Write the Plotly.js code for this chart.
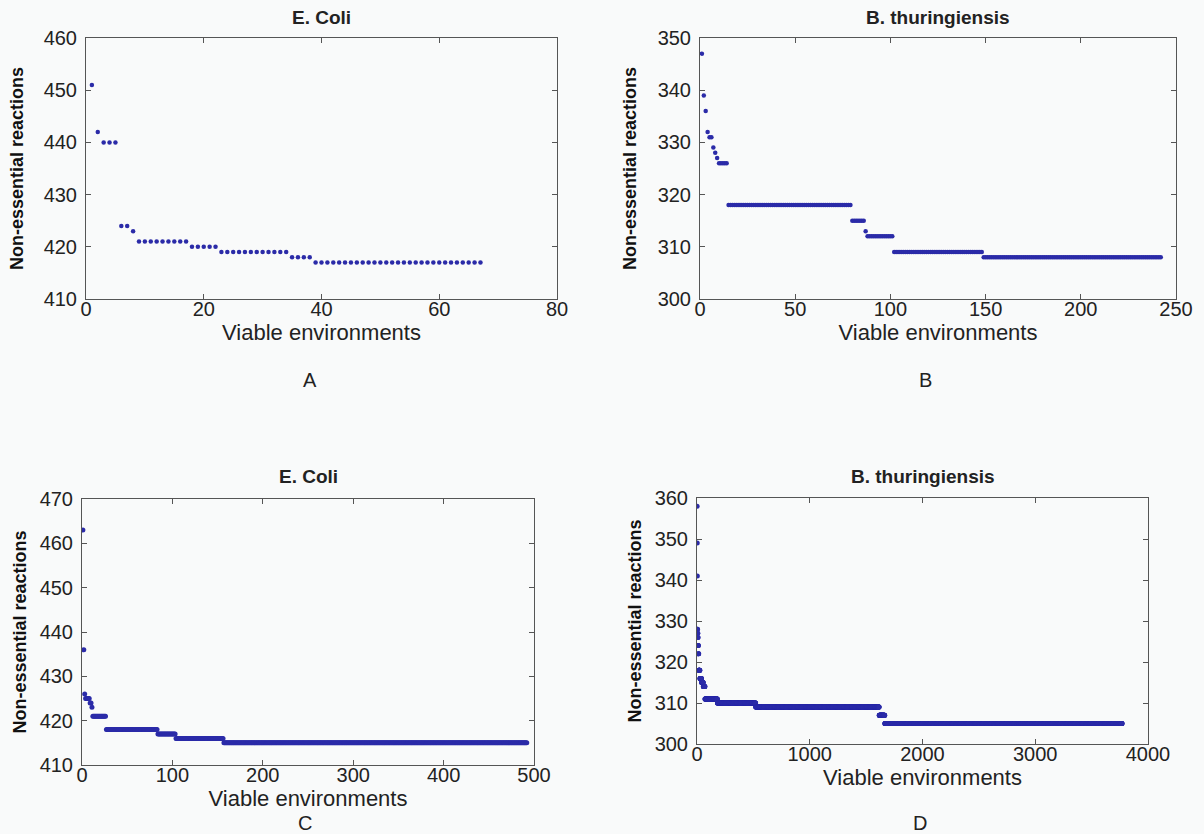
<!DOCTYPE html>
<html>
<head>
<meta charset="utf-8">
<script src="https://cdn.plot.ly/plotly-3.0.1.min.js"></script>
<style>
html,body{margin:0;padding:0;background:#f9fafa;}
#chart{width:1204px;height:834px;}
</style>
</head>
<body>
<div id="chart"></div>
<script>
// Step data: each value repeats 'count' times along x = 1, 2, 3, ...
var panelTitles = ["E. Coli", "B. thuringiensis", "E. Coli", "B. thuringiensis"];
var panelLetters = ["A", "B", "C", "D"];
var xAxisTitle = "Viable environments";
var yAxisTitle = "Non-essential reactions";

// Panel A (E. Coli)
var aValues = [451, 442, 440, 424, 423, 421, 420, 419, 418, 417];
var aCounts = [1, 1, 3, 2, 1, 9, 5, 12, 4, 29];
// Panel B (B. thuringiensis)
var bValues = [347, 339, 336, 332, 331, 329, 328, 327, 326, 318, 315, 313, 312, 309, 308];
var bCounts = [1, 1, 1, 1, 2, 1, 1, 1, 5, 65, 7, 1, 14, 47, 94];
// Panel C (E. Coli)
var cValues = [463, 436, 426, 425, 424, 423, 421, 418, 417, 416, 415];
var cCounts = [1, 1, 1, 5, 2, 1, 15, 57, 20, 53, 336];
// Panel D (B. thuringiensis)
var dValues = [358, 349, 341, 328, 327, 326, 324, 322, 318, 316, 315, 314, 311, 310, 309, 307, 305];
var dCounts = [1, 1, 1, 2, 2, 2, 3, 3, 10, 15, 15, 15, 110, 340, 1095, 50, 2105];

// Axis tick values
var aXTicks = [0, 20, 40, 60, 80];
var aYTicks = [410, 420, 430, 440, 450, 460];
var bXTicks = [0, 50, 100, 150, 200, 250];
var bYTicks = [300, 310, 320, 330, 340, 350];
var cXTicks = [0, 100, 200, 300, 400, 500];
var cYTicks = [410, 420, 430, 440, 450, 460, 470];
var dXTicks = [0, 1000, 2000, 3000, 4000];
var dYTicks = [300, 310, 320, 330, 340, 350, 360];

function expand(values, counts) {
  var xs = [], ys = [], n = 1;
  for (var i = 0; i < values.length; i++) {
    for (var k = 0; k < counts[i]; k++) { xs.push(n); ys.push(values[i]); n++; }
  }
  return {x: xs, y: ys};
}

var W = 1204, H = 834;
function dx(a, b) { return [a / W, b / W]; }
function dy(top, bottom) { return [1 - bottom / H, 1 - top / H]; }

var panels = [
  {vals: aValues, cnts: aCounts, xt: aXTicks, yt: aYTicks, xd: dx(86, 557), yd: dy(38, 299), msize: 4.5},
  {vals: bValues, cnts: bCounts, xt: bXTicks, yt: bYTicks, xd: dx(700, 1176), yd: dy(38, 299), msize: 4.5},
  {vals: cValues, cnts: cCounts, xt: cXTicks, yt: cYTicks, xd: dx(82, 534), yd: dy(499, 765), msize: 5},
  {vals: dValues, cnts: dCounts, xt: dXTicks, yt: dYTicks, xd: dx(697, 1148), yd: dy(498, 744), msize: 5}
];

var lineCol = '#555555';
var data = [];
var layout = {
  width: W, height: H,
  margin: {l: 0, r: 0, t: 0, b: 0},
  paper_bgcolor: '#f9fafa',
  plot_bgcolor: '#f9fafa',
  showlegend: false,
  font: {family: 'Liberation Sans, Arial, sans-serif', color: '#222222'},
  annotations: []
};

var titleY = [18, 18, 476, 476];
var letterPos = [[310, 380], [925, 380], [305, 823], [920, 823]];
var xStand = [3, 3, 2, 2];
var yStand = [15, 16, 8, 8];

panels.forEach(function (p, i) {
  var s = expand(p.vals, p.cnts);
  var xa = 'x' + (i === 0 ? '' : (i + 1));
  var ya = 'y' + (i === 0 ? '' : (i + 1));
  data.push({
    type: 'scatter', mode: 'markers', x: s.x, y: s.y,
    xaxis: xa, yaxis: ya,
    marker: {color: '#2b2ba8', size: p.msize, line: {width: 0}},
    hoverinfo: 'x+y'
  });
  var xr = [p.xt[0], p.xt[p.xt.length - 1]];
  var yr = [p.yt[0], p.yt[p.yt.length - 1]];
  var common = {
    showline: true, mirror: 'ticks', linecolor: lineCol, linewidth: 1,
    ticks: 'inside', ticklen: 5, tickcolor: lineCol, tickwidth: 1,
    showgrid: false, zeroline: false, fixedrange: true,
    tickfont: {size: 20, color: '#222222'}
  };
  var xKey = 'xaxis' + (i === 0 ? '' : (i + 1));
  var yKey = 'yaxis' + (i === 0 ? '' : (i + 1));
  layout[xKey] = Object.assign({}, common, {
    domain: p.xd, range: xr, tickvals: p.xt, anchor: ya,
    ticklabelstandoff: -8,
    title: {text: xAxisTitle, font: {size: 22, color: '#222222'}, standoff: xStand[i]}
  });
  layout[yKey] = Object.assign({}, common, {
    domain: p.yd, range: yr, tickvals: p.yt, anchor: xa,
    ticklabelstandoff: 4,
    title: {text: '<b>' + yAxisTitle + '</b>', font: {size: 18, color: '#111111'}, standoff: yStand[i]}
  });
  layout.annotations.push({
    text: '<b>' + panelTitles[i] + '</b>', xref: 'paper', yref: 'paper',
    x: (p.xd[0] + p.xd[1]) / 2, y: 1 - titleY[i] / H, xanchor: 'center', yanchor: 'middle',
    showarrow: false, font: {size: 19, color: '#222222'}
  });
  layout.annotations.push({
    text: panelLetters[i], xref: 'paper', yref: 'paper',
    x: letterPos[i][0] / W, y: 1 - letterPos[i][1] / H, xanchor: 'center', yanchor: 'middle',
    showarrow: false, font: {size: 20, color: '#222222'}
  });
});

Plotly.newPlot('chart', data, layout, {staticPlot: true, displayModeBar: false});
</script>
</body>
</html>
